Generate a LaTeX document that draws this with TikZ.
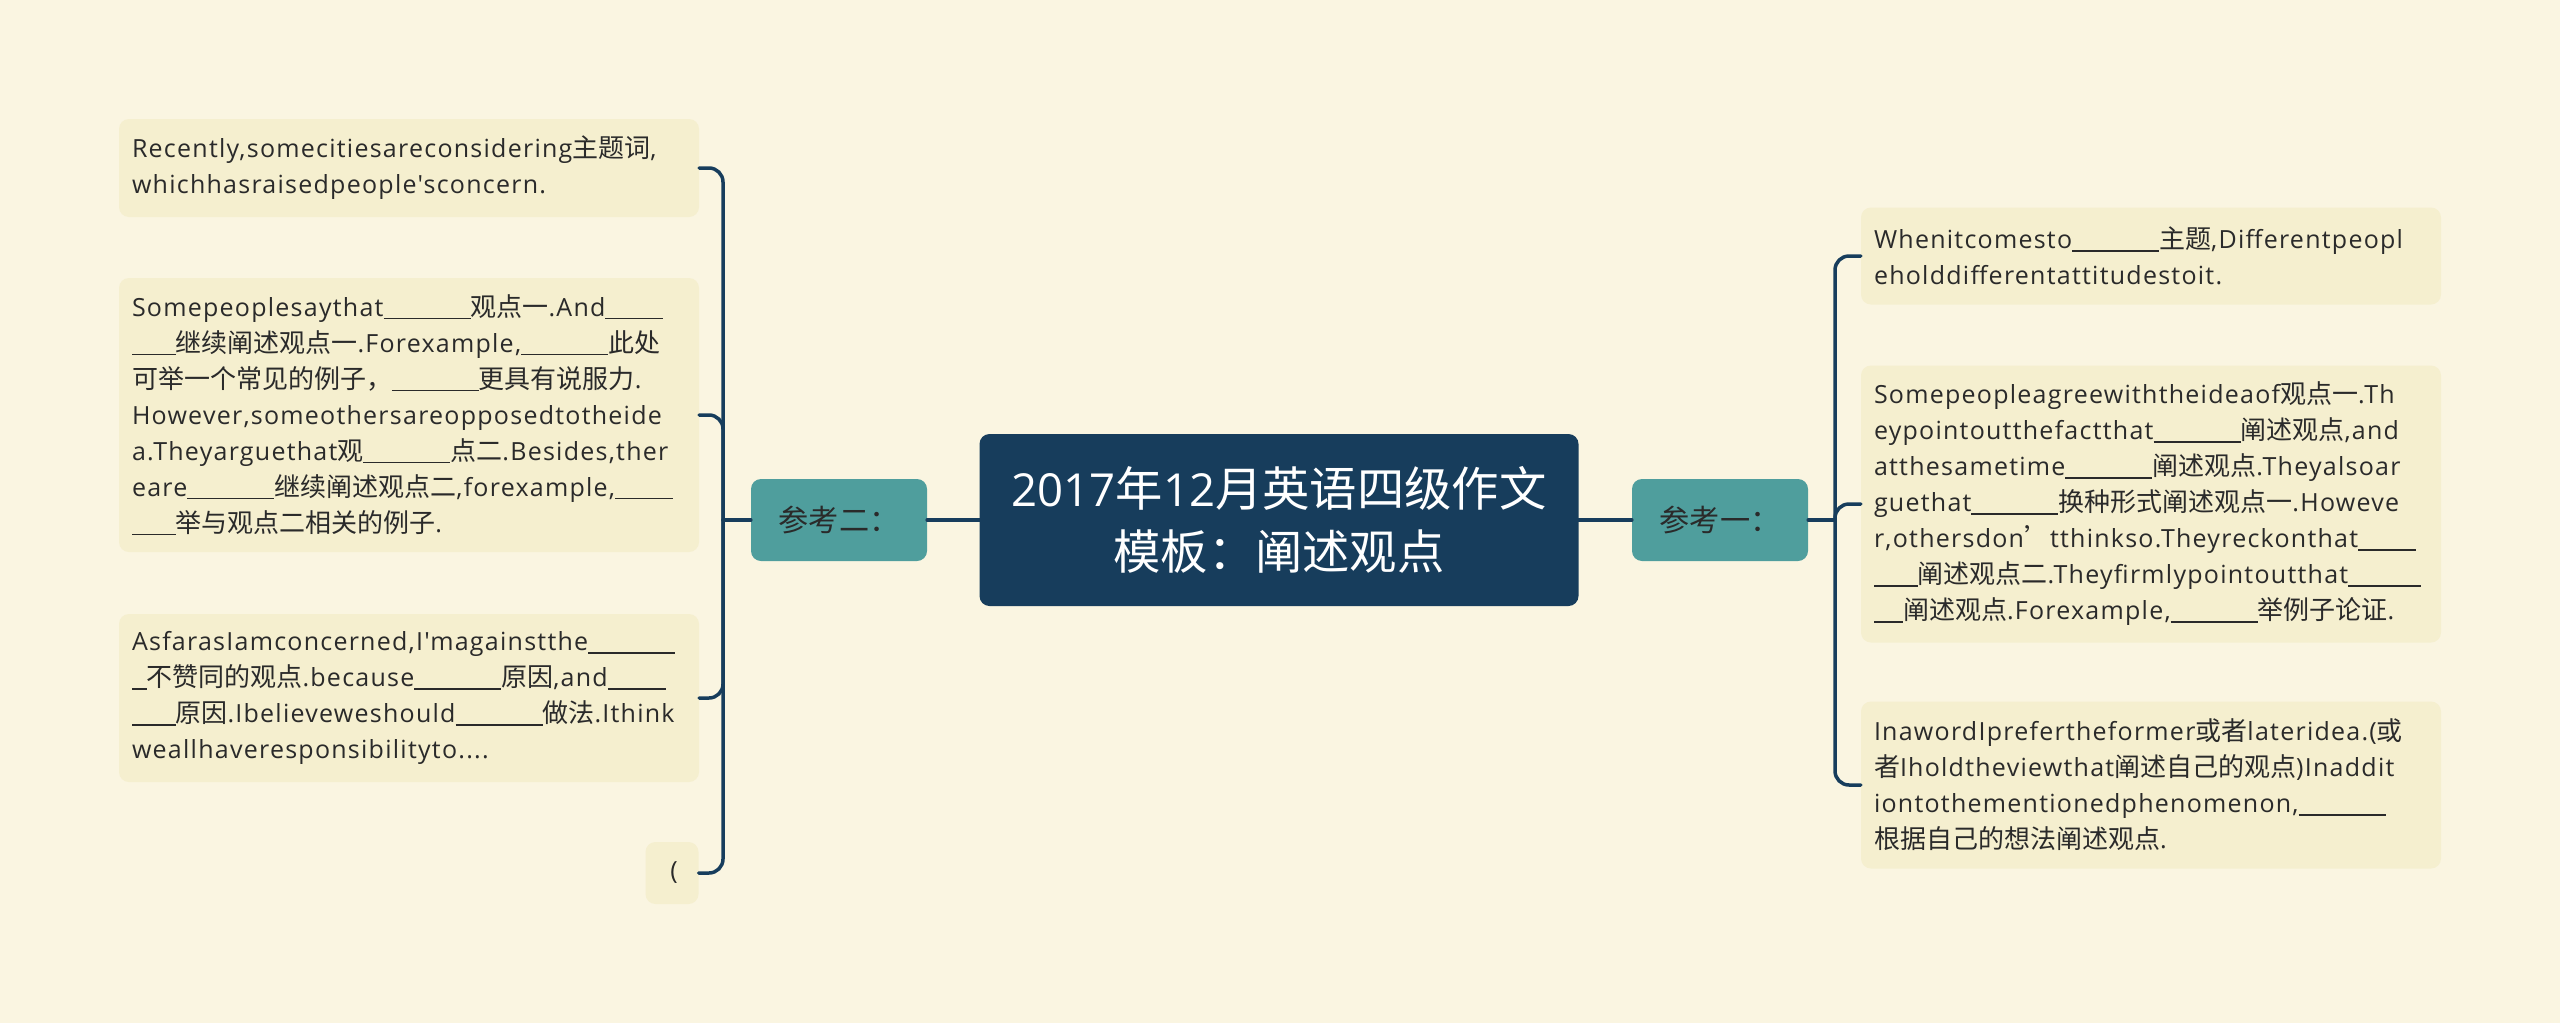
\documentclass[tikz,border=0pt]{standalone}
\usepackage{fontspec}
\setmainfont{Open Sans}[Ligatures=TeXOff, LetterSpace=5]
\newfontfamily\titlef{Open Sans}[Ligatures=TeXOff]
\newfontfamily\cjkf{Noto Sans CJK SC}[Ligatures=TeXOff, Scale=1.04]
\newcommand\zh[1]{{\cjkf #1}}
\newcommand\ul[1]{\rule[-3pt]{\dimexpr14.5pt*#1\relax}{1.5pt}}
\definecolor{bgc}{HTML}{FAF5E1}
\definecolor{leafc}{HTML}{F5EFCF}
\definecolor{navy}{HTML}{173D5C}
\definecolor{tealc}{HTML}{4F9E9D}
\definecolor{txt}{HTML}{2A2A2A}
\begin{document}
\begin{tikzpicture}[x=1pt,y=-1pt,
  leaf/.style={fill=leafc, rounded corners=10pt, text width=554pt, align=left,
    inner xsep=13pt, inner ysep=0pt, text=txt, font=\fontsize{25pt}{36pt}\selectfont},
  center/.style={fill=navy, rounded corners=10pt, minimum width=599pt, minimum height=172pt,
    text=white, align=center, font=\titlef\fontsize{45.5pt}{63pt}\selectfont},
  branch/.style={fill=tealc, rounded corners=10pt, minimum width=176pt, minimum height=82pt,
    text=txt, font=\fontsize{29pt}{36pt}\selectfont},
  conn/.style={draw=navy, line width=3.5pt, line cap=round}]
\useasboundingbox[fill=bgc] (0,0) rectangle (2560,1023);

\node[center] (C) at (1279,520) {2017\zh{年}12\zh{月英语四级作文}\\\zh{模板：阐述观点}};
\node[branch] (LB) at (839,520) {\zh{参考二：}};
\node[branch] (RB) at (1720,520) {\zh{参考一：}};

\node[leaf, minimum height=98pt] (L1) at (409,168) {Recently,somecitiesareconsidering\zh{主题词},\\whichhasraisedpeople'sconcern.};
\node[leaf, minimum height=274pt] (L2) at (409,415) {Somepeoplesaythat\ul{6}\zh{观点一}.And\ul{4}\\
\ul{3}\zh{继续阐述观点一}.Forexample,\ul{6}\zh{此处}\\
\zh{可举一个常见的例子，}\ul{6}\zh{更具有说服力}.\\
However,someothersareopposedtotheide\\
a.Theyarguethat\zh{观}\ul{6}\zh{点二}.Besides,ther\\
eare\ul{6}\zh{继续阐述观点二},forexample,\ul{4}\\
\ul{3}\zh{举与观点二相关的例子}.};
\node[leaf, minimum height=168pt] (L3) at (409,698) {AsfarasIamconcerned,I'magainstthe\ul{6}\\
\ul{1}\zh{不赞同的观点}.because\ul{6}\zh{原因},and\ul{4}\\
\ul{3}\zh{原因}.Ibelieveweshould\ul{6}\zh{做法}.Ithink\\
weallhaveresponsibilityto....};
\node[fill=leafc, rounded corners=10pt, minimum width=53pt, minimum height=62pt, inner sep=0pt,
  text=txt, font=\fontsize{25pt}{36pt}\selectfont] (L4) at (672,873) {\,(};

\node[leaf, minimum height=97pt] (R1) at (2151,256) {Whenitcomesto\ul{6}\zh{主题},Differentpeopl\\eholddifferentattitudestoit.};
\node[leaf, minimum height=277pt] (R2) at (2151,504) {Somepeopleagreewiththeideaof\zh{观点一}.Th\\
eypointoutthefactthat\ul{6}\zh{阐述观点},and\\
atthesametime\ul{6}\zh{阐述观点}.Theyalsoar\\
guethat\ul{6}\zh{换种形式阐述观点一}.Howeve\\
r,othersdon\zh{’}tthinkso.Theyreckonthat\ul{4}\\
\ul{3}\zh{阐述观点二}.Theyfirmlypointoutthat\ul{5}\\
\ul{2}\zh{阐述观点}.Forexample,\ul{6}\zh{举例子论证}.};
\node[leaf, minimum height=167pt] (R3) at (2151,785) {InawordIprefertheformer\zh{或者}lateridea.(\zh{或}\\
\zh{者}Iholdtheviewthat\zh{阐述自己的观点})Inaddit\\
iontothementionedphenomenon,\ul{6}\\
\zh{根据自己的想法阐述观点}.};

\coordinate (lb) at (723,520);
\coordinate (rb) at (1835,520);
\draw[conn] (C.west) -- (LB.east);
\draw[conn] (C.east) -- (RB.west);
\draw[conn] (LB.west) -- (lb);
\draw[conn] (RB.east) -- (rb);
\foreach \n in {L1,L2,L3,L4} \draw[conn, rounded corners=14pt] (lb) |- (\n.east);
\foreach \n in {R1,R2,R3} \draw[conn, rounded corners=14pt] (rb) |- (\n.west);
\end{tikzpicture}
\end{document}
